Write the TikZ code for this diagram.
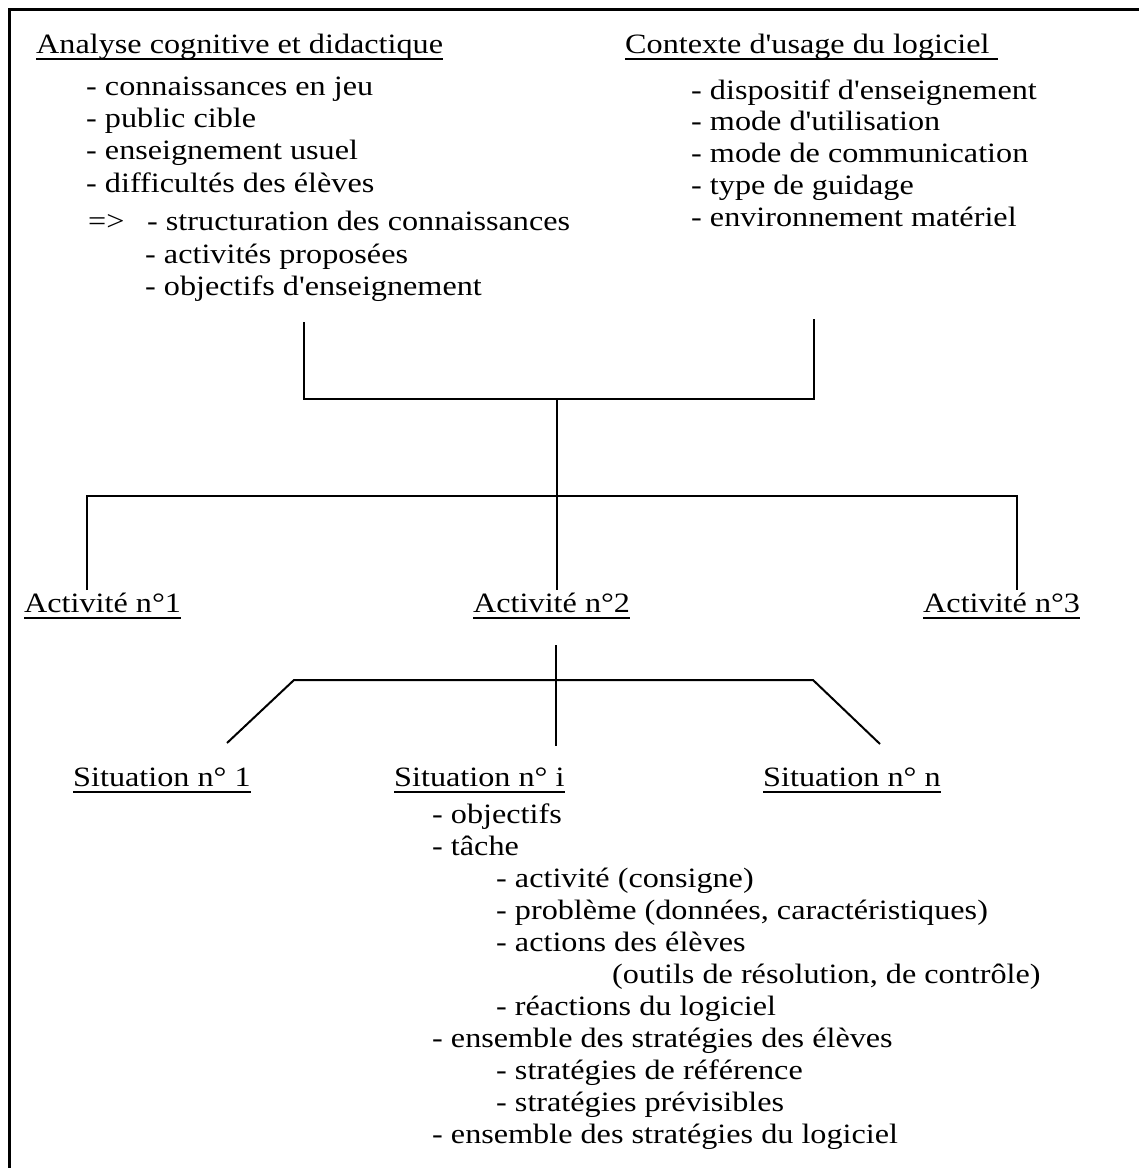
\documentclass[tikz,border=0pt]{standalone}
\usepackage{fontspec}
\setmainfont{Liberation Serif}[Ligatures=TeXOff, FakeStretch=1.15]
\usetikzlibrary{positioning}
\newcommand{\souligne}[1]{\setbox0\hbox{#1}\rlap{\rule[-7pt]{\wd0}{2pt}}\box0}

\begin{document}
\begin{tikzpicture}[x=1pt, y=-1pt,
  txt/.style={anchor=base west, inner sep=0pt, font=\fontsize{28}{32}\selectfont},
  trait/.style={line width=2pt}]
  \useasboundingbox (0,0) rectangle (1139,1168);
  \draw[line width=3pt] (9.5,1168) -- (9.5,9.5) -- (1139,9.5);

  \node[txt] (analyse) at (36,53) {\souligne{Analyse cognitive et didactique}};
  \node[txt] (contexte) at (625,53) {\souligne{Contexte d'usage du logiciel\ }};
  \foreach \t [count=\i] in {connaissances en jeu, public cible, enseignement usuel, difficultés des élèves}
    \node[txt] (ana-\i) at (86,{95+32.4*(\i-1)}) {- \t};
  \node[txt] (donc) at (88,230) {=>};
  \node[txt] (der-1) at (147,230) {- structuration des connaissances};
  \node[txt] (der-2) at (145,263) {- activités proposées};
  \node[txt] (der-3) at (145,295) {- objectifs d'enseignement};
  \foreach \t [count=\i] in {dispositif d'enseignement, mode d'utilisation, mode de communication, type de guidage, environnement matériel}
    \node[txt] (ctx-\i) at (691,{99+31.8*(\i-1)}) {- \t};

  \coordinate (bl) at (304,322);
  \coordinate (br) at (814,319);
  \coordinate (bm) at (557,399);
  \coordinate (hl) at (87,496);
  \coordinate (hr) at (1017,496);
  \coordinate (a1) at (87,590);
  \coordinate (a2) at (557,590);
  \coordinate (a3) at (1017,590);
  \draw[trait] (bl) |- (bm) -| (br);
  \draw[trait] (bm) -- (a2);
  \draw[trait] (a1) |- (hr) -- (a3);

  \node[txt] (act-1) at (24,612) {\souligne{Activité n°1}};
  \node[txt] (act-2) at (473,612) {\souligne{Activité n°2}};
  \node[txt] (act-3) at (923,612) {\souligne{Activité n°3}};

  \coordinate (st) at (556,645);
  \coordinate (sb) at (556,746);
  \coordinate (sl) at (294,680);
  \coordinate (sr) at (813,680);
  \coordinate (s1) at (227,743);
  \coordinate (sn) at (880,744);
  \draw[trait] (st) -- (sb);
  \draw[trait] (s1) -- (sl) -- (sr) -- (sn);

  \node[txt] (sit-1) at (73,786) {\souligne{Situation n° 1}};
  \node[txt] (sit-i) at (394,786) {\souligne{Situation n° i}};
  \node[txt] (sit-n) at (763,786) {\souligne{Situation n° n}};
  \foreach \x/\t [count=\i from 0] in {432/- objectifs, 432/- tâche, 496/- activité (consigne),
      {496/- problème (données, caractéristiques)}, 496/- actions des élèves,
      {612/(outils de résolution, de contrôle)}, 496/- réactions du logiciel,
      432/- ensemble des stratégies des élèves, 496/- stratégies de référence,
      496/- stratégies prévisibles, 432/- ensemble des stratégies du logiciel}
    \node[txt] (item-\i) at (\x,{823+32*\i}) {\t};
\end{tikzpicture}
\end{document}
